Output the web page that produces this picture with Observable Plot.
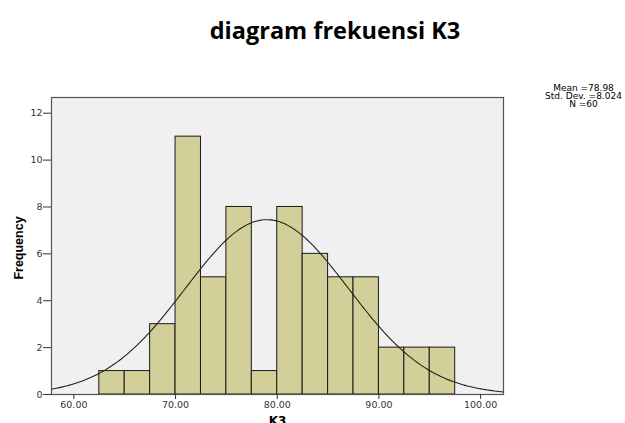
<!DOCTYPE html>
<html>
<head>
<meta charset="utf-8">
<script src="https://cdn.jsdelivr.net/npm/d3@7"></script>
<script src="https://cdn.jsdelivr.net/npm/@observablehq/plot@0.6"></script>
<style>
  html, body { margin: 0; padding: 0; background: #fff; }
  #wrap { position: relative; width: 625px; height: 423px; overflow: hidden; }
  #title { height: 60px; box-sizing: border-box; padding-top: 17px; padding-left: 45px;
           text-align: center; font: bold 23.5px "Open Sans", Lato, sans-serif; line-height: 26px; color: #000; }
</style>
</head>
<body>
<div id="wrap">
  <div id="title">diagram frekuensi K3</div>
  <div id="chart"></div>
</div>
<script>
// Histogram bins (lower edges) and frequencies
const binStarts = [62.5, 65, 67.5, 70, 72.5, 75, 77.5, 80, 82.5, 85, 87.5, 90, 92.5, 95];
const binWidth = 2.5;
const counts = [1, 1, 3, 11, 5, 8, 1, 8, 6, 5, 5, 2, 2, 2];
const xTicks = [60, 70, 80, 90, 100];
const yTicks = [0, 2, 4, 6, 8, 10, 12];
const statLines = ["Mean =78.98", "Std. Dev. =8.024", "N =60"];
const mean = 78.98, sd = 8.024, n = 60;

const bars = binStarts.map((s, i) => ({x1: s, x2: s + binWidth, y: counts[i]}));

// Fitted normal curve from the stated mean / sd / N
const xDomain = [57.8, 102.25];
const curve = d3.range(0, 201).map(i => {
  const x = xDomain[0] + (xDomain[1] - xDomain[0]) * i / 200;
  const z = (x - mean) / sd;
  return {x, y: n * binWidth * Math.exp(-0.5 * z * z) / (sd * Math.sqrt(2 * Math.PI))};
});

const plot = Plot.plot({
  width: 625,
  height: 363,
  marginLeft: 51,
  marginRight: 122,
  marginTop: 37,
  marginBottom: 29,
  style: {fontFamily: "DejaVu Sans, Liberation Sans, sans-serif", fontSize: "9.5px", color: "#333", overflow: "visible"},
  x: {domain: xDomain},
  y: {domain: [0, 12.67]},
  marks: [
    Plot.frame({fill: "#f0f0f0", stroke: "none"}),
    Plot.rectY(bars, {x1: "x1", x2: "x2", y: "y", fill: "#d3cf98", stroke: "#1a1a1a", strokeWidth: 1}),
    Plot.line(curve, {x: "x", y: "y", stroke: "#222", strokeWidth: 1.1, curve: "linear", clip: true}),
    Plot.frame({stroke: "#555", strokeWidth: 1.2}),
    Plot.axisX({ticks: xTicks, tickFormat: d => d.toFixed(2), tickSize: 5, tickPadding: 2, label: null, stroke: "#333"}),
    Plot.axisY({ticks: yTicks, tickSize: 8, tickPadding: 1, label: null, stroke: "#333"}),
    Plot.text(["Frequency"], {frameAnchor: "left", dx: -33, dy: 2, rotate: -90, text: d => d, textAnchor: "middle",
      fontFamily: "Liberation Sans Narrow, Arial Narrow, Liberation Sans, sans-serif", fontWeight: "bold", fontSize: 12.5, fill: "#000"}),
    Plot.text(["K3"], {frameAnchor: "bottom", dy: 22, text: d => d, lineAnchor: "top", textAnchor: "middle",
      fontWeight: "bold", fontSize: 12, fill: "#000"}),
    Plot.text([statLines.join("\n")], {frameAnchor: "top-right", dx: 80, dy: -12, text: d => d,
      textAnchor: "middle", lineAnchor: "top", lineHeight: 0.9, fontSize: 9, fill: "#000"})
  ]
});
document.getElementById("chart").appendChild(plot);
</script>
</body>
</html>
